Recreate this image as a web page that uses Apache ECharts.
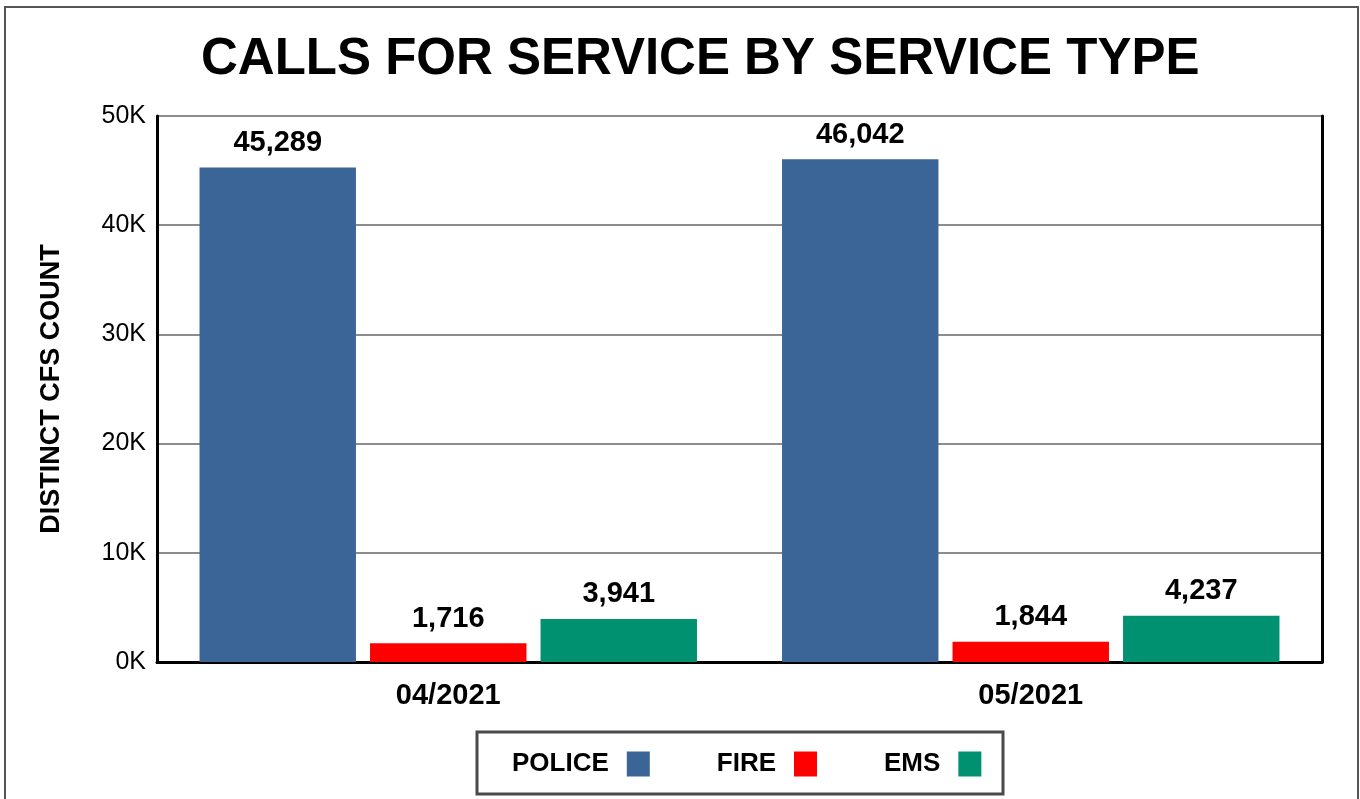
<!DOCTYPE html>
<html>
<head>
<meta charset="utf-8">
<script src="https://cdn.jsdelivr.net/npm/echarts@6/dist/echarts.min.js"></script>
<style>
html,body{margin:0;padding:0;background:#fff;}
#chart{width:1360px;height:799px;}
</style>
</head>
<body>
<div id="chart"></div>
<script>
const categories = ['04/2021', '05/2021'];
const seriesNames = ['POLICE', 'FIRE', 'EMS'];
const policeValues = [45289, 46042];
const fireValues = [1716, 1844];
const emsValues = [3941, 4237];
const yTicks = [0, 10000, 20000, 30000, 40000, 50000];

const FONT = '"Liberation Sans", Arial, sans-serif';
const colors = ['#3A6596', '#FF0000', '#009270'];
const dataSets = [policeValues, fireValues, emsValues];

const chart = echarts.init(document.getElementById('chart'));
const labelStyle = {
  show: true, position: 'top', distance: 10,
  fontFamily: FONT, fontWeight: 'bold', fontSize: 29, color: '#000',
  formatter: p => p.value.toLocaleString('en-US')
};

chart.setOption({
  animation: false,
  backgroundColor: '#fff',
  title: {
    text: 'CALLS FOR SERVICE BY SERVICE TYPE',
    left: 196, top: 29,
    textStyle: { fontFamily: FONT, fontWeight: 'bold', fontSize: 51, color: '#000' }
  },
  legend: {
    left: 507, top: 746,
    align: 'right',
    itemWidth: 23, itemHeight: 25, itemGap: 67,
    icon: 'rect',
    data: seriesNames,
    textStyle: { fontFamily: FONT, fontWeight: 'bold', fontSize: 26, color: '#000', padding: [0, 13, 0, 0] }
  },
  graphic: [
    { type: 'rect', shape: { x: 5, y: 7, width: 1353, height: 820 }, style: { fill: 'none', stroke: '#555', lineWidth: 2 }, silent: true },
    { type: 'rect', shape: { x: 477, y: 732, width: 526, height: 62 }, style: { fill: 'none', stroke: '#4a4a4a', lineWidth: 3 }, silent: true }
  ],
  grid: { left: 157, right: 38, top: 116, bottom: 137, containLabel: false },
  xAxis: {
    type: 'category', data: categories,
    axisLine: { show: true, lineStyle: { color: '#000', width: 3 } },
    axisTick: { show: false },
    axisLabel: { margin: 19, fontFamily: FONT, fontWeight: 'bold', fontSize: 29, color: '#000' }
  },
  yAxis: [{
    type: 'value', min: yTicks[0], max: yTicks[yTicks.length - 1], interval: yTicks[1] - yTicks[0],
    name: 'DISTINCT CFS COUNT', nameLocation: 'middle', nameGap: 92,
    nameTextStyle: { fontFamily: FONT, fontWeight: 'bold', fontSize: 27, color: '#000' },
    axisLine: { show: true, lineStyle: { color: '#000', width: 3 } },
    axisTick: { show: false },
    axisLabel: { margin: 11, fontFamily: FONT, fontSize: 25, color: '#000', formatter: v => (v / 1000) + 'K' },
    splitLine: { show: true, lineStyle: { color: '#8c8c8c', width: 2 } }
  }, {
    type: 'value', position: 'right', min: 0, max: 50000, interval: 10000,
    axisLine: { show: true, lineStyle: { color: '#000', width: 3 } },
    axisTick: { show: false }, axisLabel: { show: false }, splitLine: { show: false }
  }],
  series: seriesNames.map((name, i) => ({
    name, type: 'bar', data: dataSets[i],
    itemStyle: { color: colors[i] },
    barCategoryGap: '14.6%', barGap: '9%',
    label: labelStyle
  }))
});
</script>
</body>
</html>
